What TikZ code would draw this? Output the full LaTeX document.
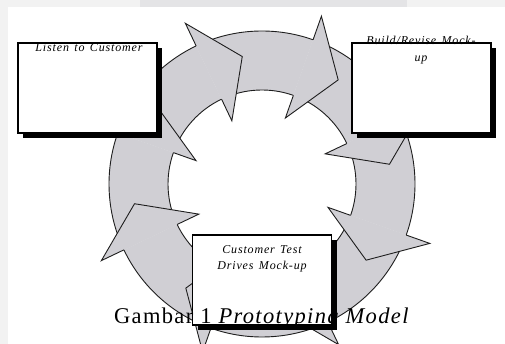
\documentclass[tikz,border=0pt]{standalone}
\usepackage{fontspec}
\setmainfont{Liberation Serif}
\newfontfamily\boxfont[LetterSpace=7,WordSpace=1.4]{Liberation Serif}
\newfontfamily\capfont[LetterSpace=6]{Liberation Serif}
\usetikzlibrary{shadows}
\definecolor{ringfill}{RGB}{208,207,212}
\definecolor{ringline}{RGB}{30,30,30}
\definecolor{paperedge}{RGB}{242,242,242}
\definecolor{paperband}{RGB}{228,228,230}
\tikzset{
  ringarea/.style={fill=ringfill},
  ringstroke/.style={draw=ringline,line width=0.9pt,line join=miter},
  stepbox/.style={draw=black,line width=1.3pt,fill=white,minimum width=139pt,minimum height=90pt,inner sep=0pt,
    general shadow={fill=black,shadow xshift=5pt,shadow yshift=-5pt}},
  boxtext/.style={font=\boxfont\itshape\fontsize{12}{14}\selectfont,anchor=base,inner sep=0pt},
  captext/.style={font=\capfont\fontsize{22.5}{26}\selectfont,anchor=base,inner sep=0pt}
}
\begin{document}
\begin{tikzpicture}[x=1pt,y=1pt]
\useasboundingbox (0,0) rectangle (505,344);
% paper background
\fill[paperedge] (0,0) rectangle (505,344);
\fill[paperband] (140,337) rectangle (407,344);
\fill[white] (8,0) rectangle (505,337);
\clip (0,0) rectangle (505,344);
% ring: shafts
\begin{scope}[shift={(262,160)}]
\foreach \b in {115.5,70.5,25.5,-19.5,-64.5,-109.5,-154.5,-199.5}{
  \pgfmathsetmacro\a{\b+45}
  \fill[ringarea] (\a:153pt) arc[start angle=\a,end angle=\b,radius=153pt]
     -- (\b:94pt) arc[start angle=\b,end angle=\a,radius=94pt] -- cycle;
  \draw[ringstroke] (\a:153pt) arc[start angle=\a,end angle=\b,radius=153pt];
  \draw[ringstroke] (\a:94pt) arc[start angle=\a,end angle=\b,radius=94pt];
}
% ring: heads
\foreach \b in {115.5,70.5,25.5,-19.5,-64.5,-109.5,-154.5,-199.5}{
  \pgfmathsetmacro\t{\b-16.7}
  \path[ringarea,ringstroke] (\b:153pt) -- (\b:178pt) -- (\t:129pt) -- (\b:70pt) -- (\b:94pt);
}
\end{scope}
% boxes
\node[stepbox] (listen) at (87.5,256) {};
\node[stepbox] (build) at (421.5,256) {};
\node[stepbox] (customer) at (262,64) {};
% box texts
\node[boxtext] (listenT) at (89,292) {Listen to Customer};
\node[boxtext] (buildA) at (421,299) {Build/Revise Mock-};
\node[boxtext] (buildB) at (421,282) {up};
\node[boxtext] (custA) at (262,90) {Customer Test};
\node[boxtext] (custB) at (262,74) {Drives Mock-up};
% caption
\node[captext] (caption) at (262,20) {Gambar 1 \textit{Prototyping Model}};
\end{tikzpicture}
\end{document}
